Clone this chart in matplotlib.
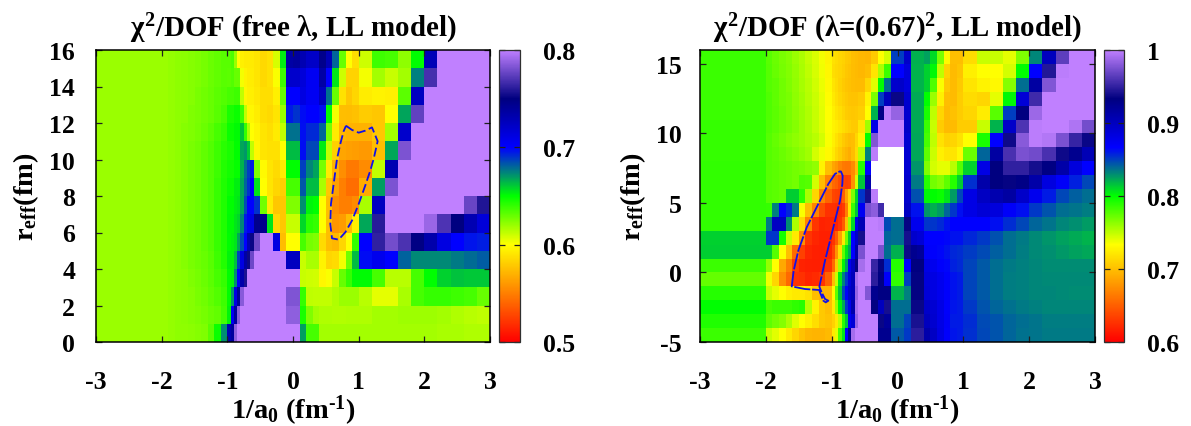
"""Two chi^2/DOF maps in the (1/a0, r_eff) plane, LL model."""

import numpy as np
import matplotlib
matplotlib.use("Agg")
import matplotlib.pyplot as plt
from matplotlib.colors import LinearSegmentedColormap

plt.rcParams["font.family"] = ["Liberation Serif", "DejaVu Sans"]
plt.rcParams["font.weight"] = "bold"
plt.rcParams["axes.unicode_minus"] = False
plt.rcParams["mathtext.fontset"] = "custom"
plt.rcParams["mathtext.rm"] = "Liberation Serif:bold"
plt.rcParams["mathtext.bf"] = "Liberation Serif:bold"
plt.rcParams["mathtext.it"] = "Liberation Serif"

# column edges of the scan in 1/a0
x_edges = [-3, -2, -1.9, -1.8, -1.7, -1.6, -1.5, -1.4, -1.3, -1.2, -1.1, -1.0,
           -0.95, -0.9, -0.85, -0.8, -0.75, -0.7, -0.65, -0.6, -0.5, -0.4, -0.3,
           -0.2, -0.1, 0, 0.1, 0.2, 0.3, 0.4, 0.5, 0.6, 0.7, 0.8, 0.9, 1.0,
           1.2, 1.4, 1.6, 1.8, 2.0, 2.2, 2.4, 2.6, 2.8, 3.0]
y_edges_free = list(range(0, 17))
y_edges_fixed = list(range(-5, 17))

# chi2/DOF x 1000, rows from the top (r_eff 16) downwards
chi2_free = [
    [620, 620, 621, 622, 623, 624, 625, 627, 629, 631, 633, 633, 635, 620, 600, 594, 592, 592, 592, 590, 585, 588, 608, 653, 735, 738, 730, 722, 722, 745, 728, 680, 630, 600, 587, 610, 638, 636, 622, 650, 728, 800, 800, 800, 800],
    [620, 620, 621, 622, 623, 624, 625, 627, 629, 631, 633, 632, 634, 630, 630, 602, 595, 593, 593, 590, 585, 588, 601, 638, 720, 720, 715, 705, 705, 735, 700, 655, 610, 583, 583, 602, 618, 611, 618, 675, 768, 800, 800, 800, 800],
    [620, 620, 621, 622, 623, 624, 626, 628, 630, 632, 634, 636, 636, 638, 638, 612, 597, 594, 594, 591, 587, 587, 594, 630, 700, 700, 712, 705, 705, 725, 678, 630, 589, 578, 584, 593, 595, 594, 632, 725, 800, 800, 800, 800, 800],
    [620, 620, 621, 622, 623, 625, 626, 628, 630, 633, 636, 645, 645, 648, 648, 638, 612, 597, 597, 593, 587, 585, 590, 620, 695, 690, 698, 700, 700, 697, 650, 602, 575, 574, 576, 580, 578, 600, 668, 775, 800, 800, 800, 800, 800],
    [620, 620, 621, 622, 624, 625, 627, 629, 632, 636, 640, 648, 648, 651, 651, 662, 640, 617, 600, 596, 590, 587, 592, 612, 678, 678, 697, 692, 692, 680, 627, 592, 572, 570, 570, 570, 578, 618, 720, 800, 800, 800, 800, 800, 800],
    [620, 620, 621, 622, 624, 626, 628, 631, 634, 638, 642, 645, 645, 650, 650, 667, 670, 660, 612, 597, 590, 588, 588, 600, 663, 663, 698, 686, 686, 654, 612, 582, 565, 563, 562, 560, 575, 667, 782, 800, 800, 800, 800, 800, 800],
    [620, 620, 621, 622, 624, 626, 628, 631, 634, 638, 643, 646, 646, 649, 649, 665, 678, 688, 695, 625, 598, 590, 586, 592, 650, 650, 688, 674, 668, 627, 592, 570, 556, 548, 548, 555, 612, 730, 800, 800, 800, 800, 800, 800, 800],
    [620, 620, 621, 622, 624, 626, 628, 631, 634, 639, 644, 648, 648, 653, 653, 667, 680, 690, 703, 655, 600, 590, 584, 581, 636, 636, 683, 663, 663, 617, 578, 563, 550, 543, 543, 567, 669, 782, 800, 800, 800, 800, 800, 800, 800],
    [620, 620, 621, 622, 624, 626, 628, 631, 634, 639, 644, 650, 650, 653, 655, 667, 685, 700, 700, 690, 628, 592, 578, 578, 625, 625, 672, 652, 650, 600, 575, 556, 550, 550, 555, 617, 725, 800, 800, 800, 800, 800, 800, 777, 758],
    [620, 620, 621, 622, 624, 626, 628, 631, 634, 639, 644, 651, 651, 655, 658, 674, 695, 705, 710, 745, 745, 655, 585, 578, 611, 611, 658, 642, 640, 600, 575, 559, 561, 574, 594, 667, 760, 800, 800, 800, 790, 770, 750, 730, 715],
    [620, 620, 621, 622, 624, 626, 628, 631, 634, 639, 644, 650, 652, 655, 667, 685, 700, 730, 752, 778, 800, 800, 712, 574, 600, 600, 636, 627, 625, 586, 575, 572, 584, 600, 640, 700, 762, 780, 769, 748, 733, 712, 700, 696, 694],
    [620, 620, 621, 622, 624, 626, 628, 630, 633, 638, 643, 652, 652, 662, 687, 712, 735, 753, 778, 800, 800, 800, 800, 800, 725, 725, 611, 617, 617, 595, 584, 586, 602, 628, 663, 698, 707, 700, 681, 673, 673, 673, 676, 679, 682],
    [620, 620, 621, 622, 623, 625, 627, 629, 632, 636, 640, 650, 652, 672, 702, 733, 757, 800, 800, 800, 800, 800, 800, 800, 800, 800, 611, 610, 609, 597, 601, 611, 630, 640, 651, 651, 636, 614, 614, 636, 650, 659, 662, 661, 661],
    [620, 620, 621, 622, 623, 624, 626, 628, 631, 634, 638, 650, 670, 710, 740, 785, 800, 800, 800, 800, 800, 800, 800, 800, 783, 783, 640, 613, 612, 612, 612, 616, 620, 620, 620, 614, 605, 605, 617, 636, 640, 640, 638, 636, 630],
    [620, 620, 621, 622, 623, 624, 625, 627, 629, 631, 637, 652, 705, 738, 785, 800, 800, 800, 800, 800, 800, 800, 800, 800, 787, 787, 645, 625, 618, 616, 616, 615, 615, 616, 616, 616, 618, 618, 619, 619, 619, 618, 616, 614, 613],
    [620, 620, 621, 622, 622, 623, 624, 625, 632, 648, 672, 730, 738, 787, 800, 800, 800, 800, 800, 800, 800, 800, 800, 800, 800, 800, 669, 636, 636, 618, 618, 618, 618, 618, 618, 618, 618, 618, 618, 618, 618, 617, 617, 616, 616],
]

# None marks the cells left blank in the scan
chi2_fixed = [
    [785, 777, 772, 768, 765, 760, 755, 749, 743, 736, 728, 718, 715, 712, 710, 706, 704, 700, 698, 696, 695, 705, 733, 745, 850, 850, 895, 821, 821, 825, 810, 768, 730, 700, 700, 715, 748, 748, 740, 767, 832, 900, 965, 1000, 1000],
    [785, 778, 773, 769, 766, 761, 756, 750, 744, 737, 729, 716, 714, 711, 708, 704, 702, 699, 697, 696, 700, 720, 755, 785, 867, 867, 885, 820, 820, 812, 802, 750, 710, 698, 703, 725, 733, 733, 745, 800, 867, 945, 998, 1000, 1000],
    [785, 778, 775, 771, 767, 762, 757, 752, 746, 739, 730, 720, 715, 710, 706, 703, 701, 699, 698, 698, 712, 742, 800, 838, 893, 895, 885, 820, 820, 812, 780, 735, 705, 698, 705, 720, 727, 730, 765, 838, 915, 978, 1000, 1000, 1000],
    [785, 779, 775, 771, 768, 763, 758, 753, 747, 740, 732, 722, 717, 712, 708, 705, 703, 702, 702, 705, 727, 768, 850, 900, 936, 936, 892, 822, 822, 800, 760, 725, 700, 698, 707, 715, 712, 740, 802, 888, 955, 1000, 1000, 1000, 1000],
    [785, 779, 776, 772, 768, 764, 759, 754, 748, 741, 733, 725, 720, 716, 711, 707, 705, 704, 705, 708, 733, 820, 930, 998, 985, 985, 892, 822, 822, 793, 750, 712, 698, 701, 707, 712, 724, 777, 850, 933, 987, 1000, 1000, 1000, 1000],
    [786, 779, 776, 772, 769, 765, 760, 755, 749, 742, 734, 727, 724, 720, 716, 712, 709, 706, 706, 720, 758, 880, 1000, 1000, 1000, 1000, 895, 822, 822, 785, 748, 707, 698, 698, 707, 707, 748, 820, 895, 960, 998, 1000, 1000, 993, 973],
    [786, 778, 774, 770, 766, 763, 760, 756, 752, 745, 735, 725, 718, 712, 706, 701, 698, 700, 712, 727, 800, 978, 1000, 1000, 1000, 1000, 890, 823, 823, 782, 750, 718, 710, 711, 718, 733, 793, 867, 938, 980, 998, 995, 975, 952, 936],
    [786, 778, 775, 772, 769, 766, 762, 758, 745, 737, 730, 722, 713, 707, 700, 695, 690, 700, 715, 752, 833, 998, None, None, None, None, 890, 823, 823, 775, 747, 725, 720, 720, 730, 772, 840, 915, 958, 975, 972, 958, 938, 925, 905],
    [787, 778, 776, 774, 772, 770, 768, 765, 762, 727, 700, 686, 680, 670, 664, 662, 662, 672, 700, 790, 867, None, None, None, None, None, 890, 828, 828, 767, 745, 740, 740, 752, 778, 812, 880, 933, 950, 950, 940, 932, 912, 885, 867],
    [787, 778, 776, 774, 772, 770, 779, 778, 745, 698, 670, 655, 650, 640, 636, 634, 636, 675, 745, 815, 910, None, None, None, None, None, 893, 835, 835, 790, 770, 765, 775, 790, 813, 854, 911, 933, 935, 930, 912, 883, 870, 858, 848],
    [787, 778, 776, 774, 813, 813, 788, 756, 712, 670, 652, 636, 634, 632, 650, 684, 712, 767, 810, 853, 940, 998, None, None, None, None, 893, 846, 846, 802, 800, 797, 807, 826, 848, 880, 898, 908, 915, 895, 875, 860, 848, 842, 838],
    [787, 786, 833, 867, 857, 835, 735, 700, 670, 640, 626, 625, 624, 624, 630, 667, 720, 785, 815, 873, 975, 982, 955, None, None, None, 898, 862, 862, 828, 821, 826, 840, 853, 863, 880, 888, 885, 870, 863, 852, 845, 838, 836, 834],
    [787, 835, 898, 898, 830, 755, 712, 668, 628, 618, 620, 620, 618, 628, 647, 700, 760, 810, 880, 905, 1000, 1000, 997, 847, 838, 838, 935, 875, 875, 853, 853, 856, 862, 867, 867, 867, 867, 863, 855, 848, 840, 836, 832, 829, 826],
    [812, 853, 853, 795, 748, 722, 675, 628, 620, 617, 617, 628, 648, 684, 722, 770, 813, 867, 895, 940, 1000, 1000, 1000, 840, 838, 838, 940, 893, 888, 867, 867, 867, 865, 862, 862, 857, 852, 846, 838, 835, 831, 828, 825, 822, 820],
    [813, 813, 778, 733, 700, 656, 634, 620, 617, 616, 618, 637, 678, 716, 775, 806, 823, 867, 910, 975, 1000, 1000, 975, 838, 821, 821, 937, 925, 920, 870, 868, 865, 862, 857, 855, 851, 847, 842, 838, 834, 831, 829, 827, 825, 823],
    [785, 761, 733, 688, 666, 632, 618, 617, 616, 616, 626, 655, 705, 758, 803, 825, 875, 898, 935, 990, 1000, 952, 935, 855, 790, 790, 867, 933, 933, 880, 875, 868, 865, 858, 856, 849, 843, 838, 835, 833, 832, 830, 830, 830, 830],
    [774, 737, 712, 675, 655, 628, 626, 620, 622, 628, 650, 700, 748, 806, 833, 853, 885, 903, 990, 1000, 1000, 948, 932, 870, 787, 787, 850, 934, 934, 885, 882, 875, 868, 862, 860, 849, 843, 838, 834, 833, 832, 831, 831, 831, 831],
    [790, 748, 740, 733, 725, 722, 722, 718, 700, 695, 695, 730, 775, 815, 848, 870, 893, 903, 985, 1000, 978, 925, 932, 932, 820, 820, 833, 934, 934, 886, 882, 875, 868, 862, 860, 849, 843, 838, 834, 833, 832, 832, 831, 830, 830],
    [800, 782, 785, 785, 785, 788, 790, 752, 727, 705, 700, 722, 760, 802, 822, 853, 875, 910, 990, 1000, 1000, 934, 900, 940, 838, 838, 838, 936, 936, 895, 890, 880, 868, 861, 860, 852, 845, 840, 837, 835, 833, 832, 832, 832, 832],
    [792, 775, 770, 765, 755, 742, 733, 725, 716, 705, 702, 710, 722, 750, 790, 815, 873, 888, 985, 1000, 1000, 1000, 936, 920, 838, 838, 849, 942, 942, 900, 892, 880, 870, 860, 860, 855, 847, 845, 840, 838, 836, 834, 834, 834, 834],
    [785, 748, 741, 733, 722, 712, 702, 696, 694, 694, 697, 722, 740, 780, 807, 868, 925, 990, 1000, 1000, 1000, 1000, 925, 925, 843, 843, 852, 948, 948, 910, 897, 882, 868, 861, 860, 854, 848, 845, 840, 837, 836, 835, 835, 835, 835],
]

# contours of the allowed region
contour_free_x = [0.807, 0.898, 1.0, 1.10, 1.203, 1.289, 1.228, 1.177, 1.10, 1.0, 0.898, 0.796, 0.695, 0.594, 0.568, 0.578, 0.619, 0.67, 0.72, 0.771, 0.807]
contour_free_y = [11.85, 11.62, 11.47, 11.58, 11.76, 11.0, 10.03, 9.39, 8.57, 7.56, 6.65, 6.01, 5.61, 5.68, 6.47, 7.56, 8.66, 10.03, 10.85, 11.55, 11.85]
contour_fixed_x = [-0.863, -0.833, -0.838, -0.873, -0.949, -1.025, -1.101, -1.162, -1.187, -1.152, -1.101, -1.05, -1.09, -1.127, -1.177, -1.19, -1.405, -1.607, -1.577, -1.507, -1.379, -1.203, -1.05, -0.949, -0.863]
contour_fixed_y = [7.30, 6.97, 6.37, 5.17, 3.73, 2.29, 0.85, -0.47, -1.02, -1.43, -1.91, -2.03, -2.15, -2.03, -1.43, -1.26, -1.19, -1.0, 0.13, 1.57, 3.25, 4.93, 6.37, 7.09, 7.30]

x_ticks = [-3, -2, -1, 0, 1, 2, 3]
y_ticks_free = [0, 2, 4, 6, 8, 10, 12, 14, 16]
y_ticks_fixed = [-5, 0, 5, 10, 15]
cb_ticks_free = [0.5, 0.6, 0.7, 0.8]
cb_labels_free = ["0.5", "0.6", "0.7", "0.8"]
cb_ticks_fixed = [0.6, 0.7, 0.8, 0.9, 1.0]
cb_labels_fixed = ["0.6", "0.7", "0.8", "0.9", "1"]

W, H = 1191, 427
TICK_FS = 18.5
LABEL_FS = 20.5
TITLE_FS = 20.8

palette = LinearSegmentedColormap.from_list(
    "chi2",
    [(0, "#ff0000"), (1 / 3, "#ffff00"), (1 / 2, "#00ff00"), (2 / 3, "#0000ff"),
     (5 / 6, "#000080"), (1, "#c080ff")],
    N=512,
)
palette.set_bad("white")


def add_axes_px(fig, left, right, top=51, bottom=343):
    return fig.add_axes([left / W, 1 - bottom / H, (right - left) / W, (bottom - top) / H])


def draw_panel(fig, ax_px, cb_px, rows, y_edges, y_ticks, vmin, vmax, cb_ticks, cb_labels,
               title, cont_x, cont_y, dashes, y_pad):
    ax = add_axes_px(fig, *ax_px)
    z = np.flipud(np.array(rows, dtype=float)) / 1000.0
    mesh = ax.pcolormesh(x_edges, y_edges, z, cmap=palette, vmin=vmin, vmax=vmax,
                         shading="flat", linewidth=0, rasterized=True)
    ax.plot(cont_x, cont_y, color="#1010e8", lw=1.3, dashes=dashes)
    ax.set_xlim(-3, 3)
    ax.set_ylim(y_edges[0], y_edges[-1])
    ax.set_xticks(x_ticks)
    ax.set_yticks(y_ticks)
    ax.set_xticklabels([str(t) for t in x_ticks])
    ax.set_yticklabels([str(t) for t in y_ticks])
    ax.tick_params(direction="in", top=True, right=True, length=4.5, width=0.9,
                   labelsize=TICK_FS, color="#202020")
    ax.tick_params(axis="x", pad=20)
    ax.tick_params(axis="y", pad=y_pad)
    ax.set_xlabel(r"1/a$_{\mathbf{0}}$ (fm$^{\text{-1}}$)", fontsize=LABEL_FS, fontweight="bold", labelpad=0)
    ax.set_ylabel(r"r$_{\mathbf{eff}}$(fm)", fontsize=LABEL_FS, fontweight="bold", labelpad=6)
    ax.set_title(title, fontsize=TITLE_FS, fontweight="bold", pad=10)
    for s in ax.spines.values():
        s.set_linewidth(1.1)

    cax = add_axes_px(fig, *cb_px)
    cb = fig.colorbar(mesh, cax=cax)
    cb.set_ticks(cb_ticks)
    cb.set_ticklabels(cb_labels)
    cb.ax.tick_params(direction="in", left=True, right=True, length=4, width=0.9,
                      labelsize=TICK_FS, pad=17, color="#202020")
    cb.outline.set_linewidth(0.9)
    cb.outline.set_edgecolor("#303030")


def main():
    fig = plt.figure(figsize=(W / 100, H / 100), dpi=100)
    draw_panel(fig, (96, 490), (499.5, 519.5), chi2_free, y_edges_free, y_ticks_free, 0.5, 0.8,
               cb_ticks_free, cb_labels_free, r"$\chi^{\mathbf{2}}$/DOF (free λ, LL model)",
               contour_free_x, contour_free_y, (5, 2), 15)
    draw_panel(fig, (700, 1095), (1103.5, 1123.5), chi2_fixed, y_edges_fixed, y_ticks_fixed, 0.6, 1.0,
               cb_ticks_fixed, cb_labels_fixed, r"$\chi^{\mathbf{2}}$/DOF (λ=(0.67)$^{\mathbf{2}}$, LL model)",
               contour_fixed_x, contour_fixed_y, (9, 1), 13)
    fig.savefig("out.png", dpi=100)


if __name__ == "__main__":
    main()
